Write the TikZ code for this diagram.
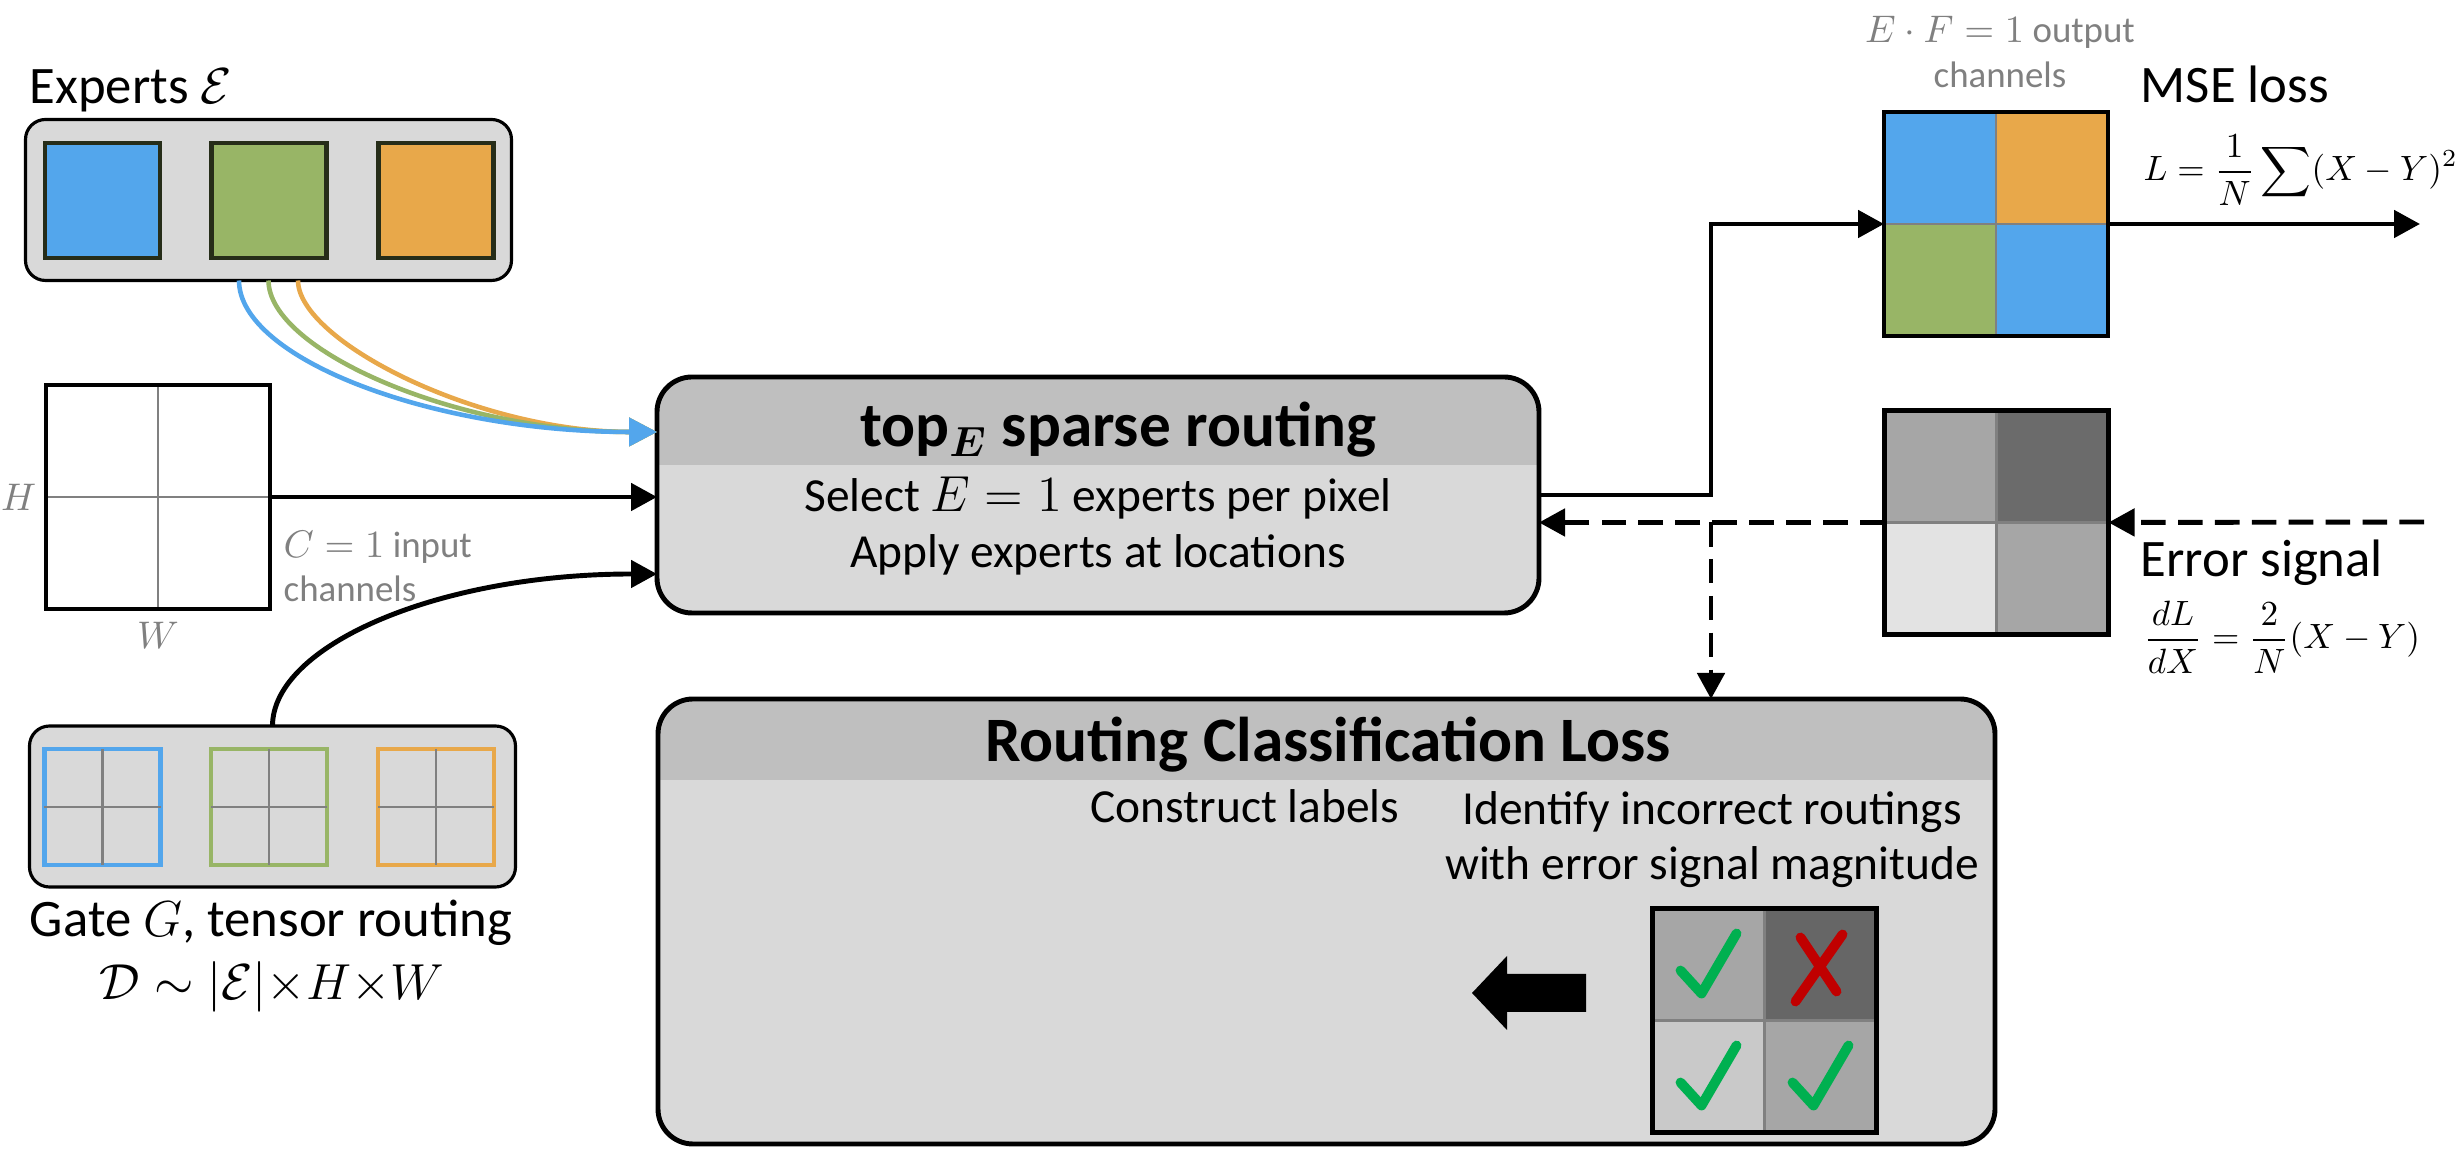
\documentclass[tikz,border=0pt]{standalone}
\usepackage{fontspec}
\setmainfont{Carlito}
\usetikzlibrary{positioning}
\usetikzlibrary{calc}
\usetikzlibrary{arrows.meta}
\definecolor{expblue}{RGB}{83,166,236}
\definecolor{expgreen}{RGB}{152,181,102}
\definecolor{exporange}{RGB}{232,168,74}
\definecolor{sqedge}{RGB}{38,45,25}
\definecolor{boxgray}{RGB}{217,217,217}
\definecolor{headgray}{RGB}{191,191,191}
\definecolor{midgray}{RGB}{128,128,128}
\definecolor{txtgray}{RGB}{128,128,128}
\definecolor{errlow}{RGB}{227,227,227}
\definecolor{errmid}{RGB}{166,166,166}
\definecolor{errhigh}{RGB}{107,107,107}
\definecolor{lbllow}{RGB}{201,201,201}
\definecolor{lblhigh}{RGB}{102,102,102}
\definecolor{okgreen}{RGB}{0,176,80}
\definecolor{badred}{RGB}{192,0,0}

\begin{document}
\begin{tikzpicture}[
  % boxes
  bigbox/.style={rectangle, rounded corners=0.35cm, fill=boxgray, inner sep=0pt, outer sep=0pt},
  boxline/.style={draw=black, line width=1.4pt, rounded corners=0.35cm},
  holdbox/.style={rectangle, rounded corners=0.2cm, fill=boxgray, draw=black, line width=0.9pt,
    inner sep=0pt, outer sep=0pt, minimum width=4.86cm, minimum height=1.61cm},
  expsq/.style={rectangle, draw=sqedge, line width=1.2pt, minimum size=1.15cm, inner sep=0pt, outer sep=0pt},
  gatesq/.style={rectangle, fill=boxgray, line width=1.4pt, minimum size=1.16cm, inner sep=0pt, outer sep=0pt},
  mapsq/.style={rectangle, minimum size=2.24cm, inner sep=0pt, outer sep=0pt},
  sqline/.style={draw=black, line width=1.2pt},
  midline/.style={draw=midgray, line width=0.8pt},
  % connectors
  arr/.style={line width=1.4pt, -{Triangle[length=0.26cm, width=0.27cm]}},
  backarr/.style={arr, dash pattern=on 7pt off 3.5pt},
  feedarr/.style={line width=1.3pt, -{Triangle[length=0.28cm, width=0.28cm]}},
  % marks
  okmark/.style={draw=okgreen, line width=2.8pt, line cap=round, line join=round},
  badmark/.style={draw=badred, line width=2.8pt, line cap=round},
  % text
  lbl/.style={font=\fontsize{15}{18}\selectfont, inner sep=0pt},
  bodytxt/.style={font=\fontsize{13.5}{16}\selectfont, inner sep=0pt},
  titletxt/.style={font=\fontsize{18}{22}\selectfont\bfseries\boldmath, inner sep=0pt},
  notetxt/.style={font=\fontsize{10.5}{12.8}\selectfont, text=txtgray, inner sep=0pt},
  eqtxt/.style={font=\fontsize{10}{12}\selectfont, inner sep=0pt}
]
\useasboundingbox (0,0) rectangle (24.59,11.52);

%---------------------------------------
% Experts
%---------------------------------------
\node[holdbox] (expbox) at (2.685,9.52) {};
\foreach \n/\x/\c in {eblue/1.025/expblue, egreen/2.69/expgreen, eorange/4.36/exporange}
  \node[expsq, fill=\c] (\n) at (\x,9.515) {};
\node[lbl, anchor=base west] (explbl) at (0.29,10.48) {Experts $\mathcal{E}$};

%---------------------------------------
% Input image
%---------------------------------------
\node[mapsq, fill=white] (inp) at (1.58,6.55) {};
\draw[midline] (inp.north) -- (inp.south) (inp.west) -- (inp.east);
\draw[sqline] (inp.south west) rectangle (inp.north east);
\node[notetxt, left=0.09cm of inp.west] (hlbl) {$H$};
\node[notetxt, below=0.13cm of inp.south] (wlbl) {$W$};
\node[notetxt, anchor=base west] (cinlbl) at (2.83,5.94) {$C=1$ input};
\node[notetxt, anchor=base west] (cinlbl2) at (2.83,5.50) {channels};

%---------------------------------------
% Gate
%---------------------------------------
\node[holdbox] (gatebox) at (2.725,3.455) {};
\foreach \n/\x/\c in {gblue/1.025/expblue, ggreen/2.69/expgreen, gorange/4.36/exporange}{
  \node[gatesq, draw=\c] (\n) at (\x,3.45) {};
  \draw[midline] (\n.north) -- (\n.south) (\n.west) -- (\n.east);
}
\node[lbl, anchor=base] (gatelbl) at (2.71,2.15) {Gate $G$, tensor routing};
\node[lbl, anchor=base] (gatedim) at (2.72,1.52) {$\mathcal{D}\sim|\mathcal{E}|{\times}H{\times}W$};

%---------------------------------------
% Sparse routing
%---------------------------------------
\node[bigbox, minimum width=8.82cm, minimum height=2.36cm] (route) at (10.98,6.57) {};
\begin{scope}
  \clip[rounded corners=0.35cm] (route.south west) rectangle (route.north east);
  \fill[headgray] (route.north west) rectangle ([yshift=-0.88cm]route.north east);
\end{scope}
\draw[boxline] (route.south west) rectangle (route.north east);
\node[titletxt, anchor=base] (routetitle) at (11.18,7.05) {top$_{E}$ sparse routing};
\node[bodytxt, anchor=base] (routeline1) at (10.98,6.40) {Select $E=1$ experts per pixel};
\node[bodytxt, anchor=base] (routeline2) at (10.98,5.84) {Apply experts at locations};

%---------------------------------------
% Routing classification loss
%---------------------------------------
\node[bigbox, minimum width=13.37cm, minimum height=4.45cm] (classbox) at (13.265,2.305) {};
\begin{scope}
  \clip[rounded corners=0.35cm] (classbox.south west) rectangle (classbox.north east);
  \fill[headgray] (classbox.north west) rectangle ([yshift=-0.81cm]classbox.north east);
\end{scope}
\draw[boxline] (classbox.south west) rectangle (classbox.north east);
\node[titletxt, anchor=base] (classtitle) at (13.28,3.90) {Routing Classification Loss};
\node[bodytxt, anchor=base] (conlbl) at (12.45,3.29) {Construct labels};
\node[bodytxt, anchor=base] (idlbl) at (17.12,3.27) {Identify incorrect routings};
\node[bodytxt, anchor=base] (idlbl2) at (17.12,2.72) {with error signal magnitude};

% label grid
\node[mapsq] (chk) at (17.645,1.315) {};
\foreach \a/\b/\c in {north west/center/errmid, north/east/lblhigh, west/south/lbllow, center/south east/errmid}
  \fill[\c] (chk.\a) rectangle (chk.\b);
\draw[midline] (chk.north) -- (chk.south) (chk.west) -- (chk.east);
\draw[sqline] (chk.south west) rectangle (chk.north east);
\coordinate (tl) at ($(chk.center)!0.5!(chk.north west)$);
\coordinate (tr) at ($(chk.center)!0.5!(chk.north east)$);
\coordinate (bl) at ($(chk.center)!0.5!(chk.south west)$);
\coordinate (br) at ($(chk.center)!0.5!(chk.south east)$);
\foreach \c in {tl,bl,br}
  \draw[okmark] ([shift={(-0.28,-0.06)}]\c) -- ++(0.21,-0.23) -- ++(0.35,0.60);
\draw[badmark] ([shift={(-0.20,0.27)}]tr) -- ([shift={(0.16,-0.27)}]tr);
\draw[badmark] ([shift={(0.22,0.30)}]tr) -- ([shift={(-0.25,-0.37)}]tr);

% block arrow
\fill (14.72,1.59) -- ++(0.35,0.37) -- ++(0,-0.18) -- ++(0.79,0) -- ++(0,-0.38)
  -- ++(-0.79,0) -- ++(0,-0.18) -- cycle;

%---------------------------------------
% Output and error signal
%---------------------------------------
\node[mapsq] (outsq) at (19.96,9.28) {};
\foreach \a/\b/\c in {north west/center/expblue, north/east/exporange, west/south/expgreen, center/south east/expblue}
  \fill[\c] (outsq.\a) rectangle (outsq.\b);
\draw[midline] (outsq.north) -- (outsq.south) (outsq.west) -- (outsq.east);
\draw[sqline] (outsq.south west) rectangle (outsq.north east);
\node[notetxt, anchor=base] (outlbl) at (20.00,11.09) {$E\cdot F=1$ output};
\node[notetxt, anchor=base] (outlbl2) at (20.00,10.64) {channels};
\node[lbl, anchor=base west] (mselbl) at (21.40,10.49) {MSE loss};
\node[eqtxt, anchor=base west] (mseeq) at (21.43,9.71) {$\displaystyle L=\frac{1}{N}\sum(X-Y)^2$};

\node[mapsq] (errsq) at (19.965,6.295) {};
\foreach \a/\b/\c in {north west/center/errmid, north/east/errhigh, west/south/errlow, center/south east/errmid}
  \fill[\c] (errsq.\a) rectangle (errsq.\b);
\draw[midline] (errsq.north) -- (errsq.south) (errsq.west) -- (errsq.east);
\draw[sqline] (errsq.south west) rectangle (errsq.north east);
\node[lbl, anchor=base west] (errlbl) at (21.40,5.75) {Error signal};
\node[eqtxt, anchor=base west] (erreq) at (21.43,5.03) {$\displaystyle\frac{dL}{dX}=\frac{2}{N}(X-Y)$};

%---------------------------------------
% Connectors
%---------------------------------------
\coordinate (split) at (17.11,6.30);
\coordinate (errsrc) at (24.24,6.30);
\coordinate (lossout) at (24.20,9.28);

\draw[feedarr, draw=exporange] ([xshift=0.295cm]expbox.south)
  to[out=-90, in=180, out distance=0.6cm, in distance=1.8cm] ([yshift=0.63cm]route.west);
\draw[feedarr, draw=expgreen] (expbox.south)
  to[out=-90, in=180, out distance=0.7cm, in distance=2.0cm] ([yshift=0.63cm]route.west);
\draw[feedarr, draw=expblue] ([xshift=-0.295cm]expbox.south)
  to[out=-90, in=180, out distance=0.78cm, in distance=2.25cm] ([yshift=0.63cm]route.west);

\draw[arr] (inp.east) -- (inp.east -| route.west);
\draw[arr] (gatebox.north)
  to[out=90, in=180, out distance=0.8cm, in distance=2.2cm] ([yshift=-0.79cm]route.west);

\draw[arr] (route.east) -| (split |- outsq.west) -- (outsq.west);
\draw[arr] (outsq.east) -- (lossout);

\draw[backarr] (errsrc) -- (errsq.east);
\draw[backarr] (errsq.west) -- (errsq.west -| route.east);
\draw[backarr] (split) -- (split |- classbox.north);

\end{tikzpicture}
\end{document}
